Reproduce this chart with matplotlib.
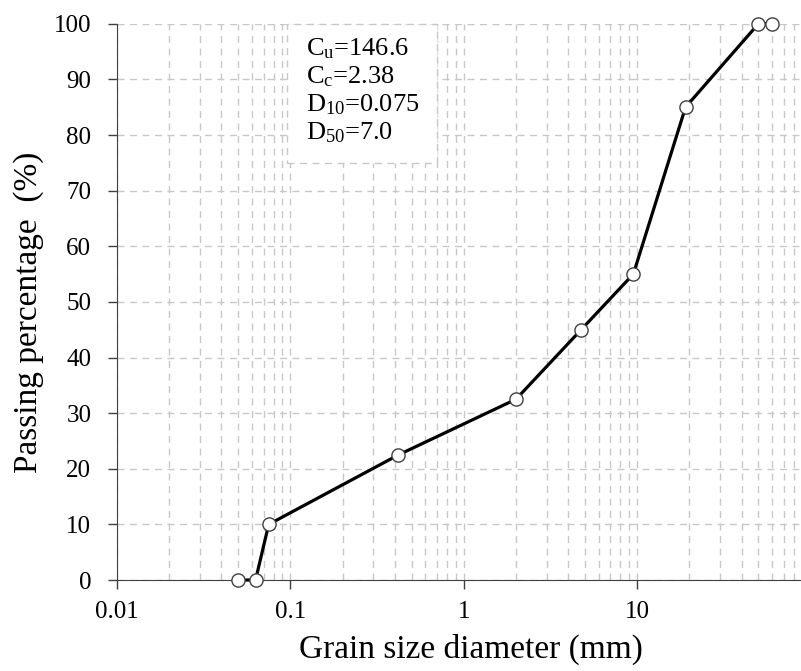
import numpy as np
import matplotlib
matplotlib.use('Agg')
import matplotlib.pyplot as plt
from matplotlib.patches import Rectangle
from matplotlib.ticker import LogLocator, FixedLocator, FuncFormatter

plt.rcParams['font.family'] = 'Liberation Serif'
plt.rcParams['mathtext.fontset'] = 'custom'
plt.rcParams['mathtext.rm'] = 'Liberation Serif'
plt.rcParams['mathtext.default'] = 'rm'

# grain size (mm) and passing percentage (%)
size_mm = np.array([0.05, 0.063, 0.075, 0.42, 2.0, 4.75, 9.5, 19.0, 50.0, 60.0])
passing = np.array([0, 0, 10, 22.5, 32.5, 45, 55, 85, 100, 100])

params = ['C$_u$=146.6', 'C$_c$=2.38', 'D$_{10}$=0.075', 'D$_{50}$=7.0']

fig = plt.figure(figsize=(8.01, 6.71), dpi=100)
ax = fig.add_axes([0.146, 0.1356, 0.854, 0.829])

ax.plot(size_mm, passing, color='black', lw=2.3, marker='o', markersize=9.5,
        markerfacecolor='white', markeredgecolor='#404040', markeredgewidth=1.0,
        clip_on=False, zorder=5)

ax.set_xscale('log')
ax.set_xlim(0.01, 88)
ax.set_ylim(0, 100)
ax.set_yticks(np.arange(0, 101, 10))
ax.xaxis.set_major_locator(FixedLocator([0.01, 0.1, 1, 10]))
ax.xaxis.set_major_formatter(FuncFormatter(lambda v, p: '%g' % v))
ax.xaxis.set_minor_locator(LogLocator(base=10, subs=np.arange(2, 10)))
ax.xaxis.set_minor_formatter(FuncFormatter(lambda v, p: ''))

ax.grid(True, which='major', axis='both', color='#c8c8c8', linestyle=(0, (5, 4)), lw=1)
ax.grid(True, which='minor', axis='x', color='#c8c8c8', linestyle=(0, (5, 4)), lw=1)
ax.set_axisbelow(True)

for s in ['top', 'right']:
    ax.spines[s].set_visible(False)
ax.spines['left'].set_color('#404040')
ax.spines['bottom'].set_color('#404040')
ax.tick_params(which='major', direction='out', length=6.5, width=1, color='#404040',
               labelsize=18)
ax.tick_params(axis='y', which='major', pad=12)
ax.tick_params(axis='x', which='major', pad=8.5)
ax.tick_params(which='minor', length=0)

ax.set_xlabel('Grain size diameter (mm)', fontsize=24)
ax.set_ylabel('Passing percentage  (%)', fontsize=24)
ax.xaxis.set_label_coords(0.5175, -0.097, transform=ax.transAxes)
ax.yaxis.set_label_coords(-0.106, 0.481, transform=ax.transAxes)

# parameter box
ax.add_patch(Rectangle((0.2485, 0.75), 0.22, 0.25, transform=ax.transAxes,
                       facecolor='white', edgecolor='#c8c8c8', lw=1,
                       linestyle=(0, (5, 4)), zorder=6, clip_on=False))
for i, t in enumerate(params):
    ax.text(0.277, 0.955 - i * 0.0505, t, transform=ax.transAxes, fontsize=19,
            va='center', ha='left', zorder=7)

fig.savefig('out.png', dpi=100)
